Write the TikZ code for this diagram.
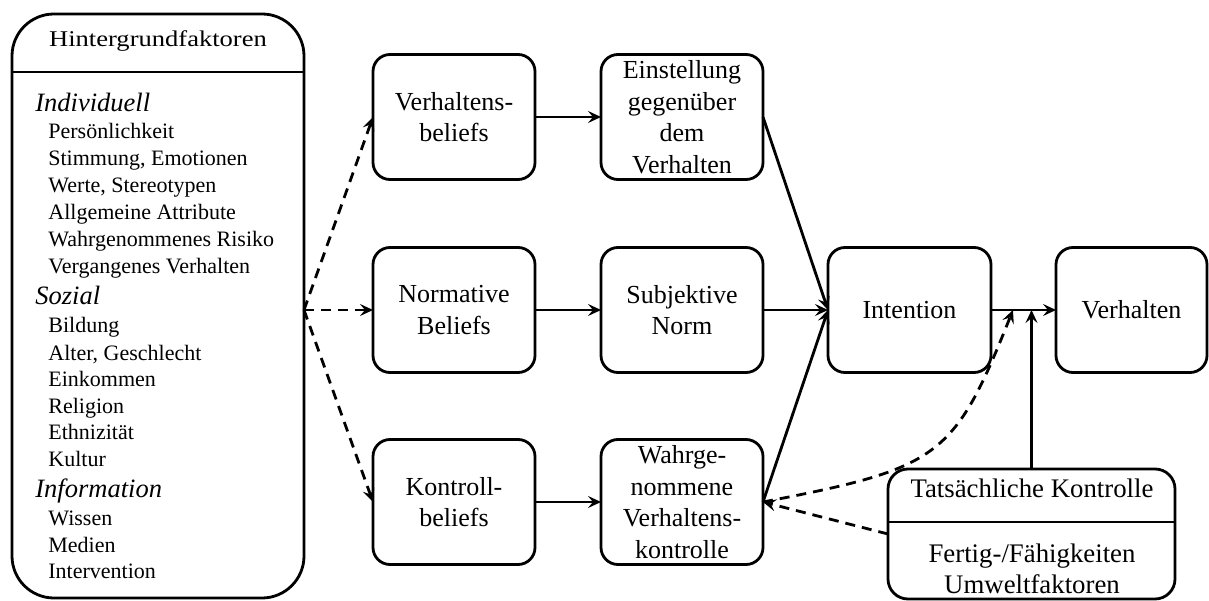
\documentclass[tikz,border=0pt]{standalone}
\usepackage{fontspec}
\setmainfont{Liberation Serif}
\usetikzlibrary{arrows.meta,calc}

% font sizes used in the diagram
\newcommand{\bxfont}{\fontsize{26}{31.5}\selectfont}
\newcommand{\tkfont}{\fontsize{26.8}{31.5}\selectfont}
\newcommand{\hdfont}{\fontsize{22.5}{27}\selectfont}
\newcommand{\itfont}{\fontsize{22}{27}\selectfont}
\newcommand{\grpfont}{\fontsize{26.5}{29}\selectfont\itshape}

\begin{document}
\begin{tikzpicture}[x=1pt,y=-1pt,
  line width=2.8pt,
  >={Stealth[length=13pt,width=12pt,inset=5pt]},
  box/.style={draw, rounded corners=17pt, minimum width=162pt,
    minimum height=125pt, inner sep=0pt, outer sep=0pt,
    align=center, font=\bxfont},
  entry/.style={anchor=base west, inner sep=0pt, font=\itfont},
  group/.style={anchor=base west, inner sep=0pt, font=\grpfont},
  dsh/.style={dash pattern=on 10pt off 7pt}
]
\useasboundingbox (0,0) rectangle (1209,601);
\fill[white] (0,0) rectangle (1209,601);

% background factors panel
\node[draw, rounded corners=42pt, minimum width=292pt, minimum height=584pt,
  outer sep=0pt] (hg) at (158,306) {};
\coordinate (hsep) at (0,72);
\draw (hg.west |- hsep) -- (hg.east |- hsep);
\node[anchor=base, inner sep=0pt, font=\hdfont] (hgt) at (158,47)
  {\scalebox{1.18}[1]{Hintergrundfaktoren}};

\node[group] (g1) at (34,112) {Individuell};
\node[entry] (e1) at (47,139) {Persönlichkeit};
\node[entry] (e2) at (47,166) {Stimmung, Emotionen};
\node[entry] (e3) at (47,193) {Werte, Stereotypen};
\node[entry] (e4) at (47,220) {Allgemeine Attribute};
\node[entry] (e5) at (47,247) {Wahrgenommenes Risiko};
\node[entry] (e6) at (47,274) {Vergangenes Verhalten};
\node[group] (g2) at (34,305) {Sozial};
\node[entry] (e7) at (47,333) {Bildung};
\node[entry] (e8) at (47,360) {Alter, Geschlecht};
\node[entry] (e9) at (47,386) {Einkommen};
\node[entry] (e10) at (47,413) {Religion};
\node[entry] (e11) at (47,439) {Ethnizität};
\node[entry] (e12) at (47,466) {Kultur};
\node[group] (g3) at (34,497) {Information};
\node[entry] (e13) at (47,525) {Wissen};
\node[entry] (e14) at (47,552) {Medien};
\node[entry] (e15) at (47,578) {Intervention};

% belief and attitude boxes
\node[box] (vb)  at (454,117) {Verhaltens-\\beliefs};
\node[box] (ein) at (682,117) {Einstellung\\gegenüber\\dem\\Verhalten};
\node[box] (nb)  at (454,310) {Normative\\Beliefs};
\node[box] (sn)  at (682,310) {Subjektive\\Norm};
\node[box] (kb)  at (454,502) {Kontroll-\\beliefs};
\node[box] (wv)  at (682,502) {Wahrge-\\nommene\\Verhaltens-\\kontrolle};
\node[box, minimum width=163pt] (int) at (909.5,310) {Intention};
\node[box, minimum width=151pt] (ver) at (1131.5,310) {Verhalten};

% actual control panel
\node[draw, rounded corners=20pt, minimum width=287pt, minimum height=130pt,
  outer sep=0pt] (tk) at (1031.5,534) {};
\coordinate (tsep) at (0,522);
\draw (tk.west |- tsep) -- (tk.east |- tsep);
\node[anchor=base, inner sep=0pt, font=\tkfont] (tkt) at (1032,497) {Tatsächliche Kontrolle};
\node[anchor=base, inner sep=0pt, font=\tkfont] (tk1) at (1032,562) {Fertig-/Fähigkeiten};
\node[anchor=base, inner sep=0pt, font=\tkfont] (tk2) at (1032,593) {Umweltfaktoren};

% connectors
\coordinate (hgo) at (hg.east |- nb.west);
\draw[->, dsh] (hgo) -- (vb.west);
\draw[->, dsh] (hgo) -- (nb.west);
\draw[->, dsh] (hgo) -- (kb.west);

\draw[->] (vb.east) -- (ein.west);
\draw[->] (nb.east) -- (sn.west);
\draw[->] (kb.east) -- (wv.west);

\draw[->] (ein.east) -- (int.west);
\draw[->] (sn.east) -- (int.west);
\draw[->] (wv.east) -- (int.west);
\draw[->] (int.east) -- (ver.west);

\coordinate (m1) at ($(int.east)!0.338!(ver.west)$);
\coordinate (m2) at (tk.north |- int.east);
\draw[->] (tk.north) -- (m2);
\draw[->, dsh] (wv.east) .. controls ($(wv.east)+(177,-34)$) and ($(m1)+(-59,148)$) .. (m1);
\draw[->, dsh] (tk.west) -- (wv.east);
\end{tikzpicture}
\end{document}
